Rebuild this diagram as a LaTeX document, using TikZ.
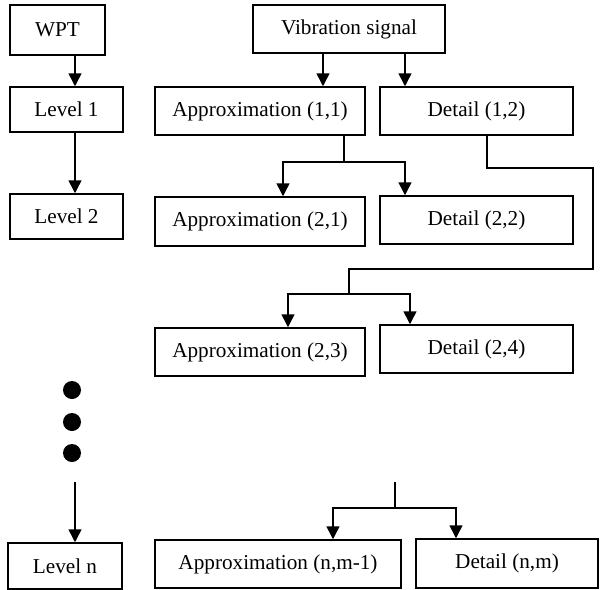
\documentclass[tikz,border=0pt]{standalone}
\usepackage{fontspec}
\setmainfont{Liberation Serif}
\usetikzlibrary{arrows.meta}
\tikzset{
  box/.style={draw, line width=0.75pt, inner sep=0pt, rectangle,
    font=\fontsize{10.6}{12}\selectfont},
  link/.style={line width=0.75pt},
  arr/.style={line width=0.75pt, -{Triangle[length=6.5pt,width=6.5pt]}},
  dotmark/.style={circle, fill=black, inner sep=0pt, minimum size=9pt}
}
\begin{document}
\begin{tikzpicture}[x=0.5pt,y=-0.5pt]
\useasboundingbox (0,0) rectangle (601,590);

% level column
\node[box, minimum width=47.5pt, minimum height=25pt] (wpt) at (57.5,30) {WPT};
\node[box, minimum width=56.5pt, minimum height=22.5pt] (lv1) at (66.5,109.5) {Level 1};
\node[box, minimum width=56.5pt, minimum height=22.5pt] (lv2) at (66.5,216.5) {Level 2};
\node[box, minimum width=57pt, minimum height=23pt] (lvn) at (65,566) {Level n};

% decomposition tree
\node[box, minimum width=96pt, minimum height=24pt] (vib) at (349,29) {Vibration signal};
\node[box, minimum width=105pt, minimum height=24pt] (a11) at (260,111) {Approximation (1,1)};
\node[box, minimum width=96.5pt, minimum height=24pt] (d12) at (476.5,111) {Detail (1,2)};
\node[box, minimum width=105pt, minimum height=24.5pt] (a21) at (260,221.5) {Approximation (2,1)};
\node[box, minimum width=96.5pt, minimum height=24pt] (d22) at (476.5,220) {Detail (2,2)};
\node[box, minimum width=105pt, minimum height=24pt] (a23) at (260,352) {Approximation (2,3)};
\node[box, minimum width=96.5pt, minimum height=24pt] (d24) at (476.5,349) {Detail (2,4)};
\node[box, minimum width=123pt, minimum height=24pt] (anm) at (278,564) {Approximation (n,m-1)};
\node[box, minimum width=91pt, minimum height=24.5pt] (dnm) at (507,563.5) {Detail (n,m)};

% ellipsis dots
\node[dotmark] (dot1) at (72,390) {};
\node[dotmark] (dot2) at (72,422) {};
\node[dotmark] (dot3) at (72,453) {};

% helper coordinates
\coordinate (xL) at (75,0);
\coordinate (dotsend) at (75,482);
\coordinate (xa) at (323,0);
\coordinate (xb) at (405,0);
\coordinate (s1) at (344,162);
\coordinate (xc) at (283,0);
\coordinate (xd) at (405,0);
\coordinate (xe) at (487,0);
\coordinate (r1) at (593,168);
\coordinate (r2) at (593,269);
\coordinate (s2) at (349,294);
\coordinate (xf) at (288,0);
\coordinate (xg) at (410,0);
\coordinate (top3) at (395,482);
\coordinate (s3) at (395,508);
\coordinate (xh) at (333,0);
\coordinate (xi) at (456,0);

% level arrows
\draw[arr] (wpt.south -| xL) -- (lv1.north -| xL);
\draw[arr] (lv1.south -| xL) -- (lv2.north -| xL);
\draw[arr] (dotsend) -- (lvn.north -| dotsend);

% first split
\draw[arr] (vib.south -| xa) -- (a11.north -| xa);
\draw[arr] (vib.south -| xb) -- (d12.north -| xb);

% split of approximation (1,1)
\draw[link] (a11.south -| s1) -- (s1);
\draw[arr] (s1) -| (a21.north -| xc);
\draw[arr] (s1) -| (d22.north -| xd);

% split of detail (1,2)
\draw[link] (d12.south -| xe) |- (r1) -- (r2) -| (s2);
\draw[arr] (s2) -| (a23.north -| xf);
\draw[arr] (s2) -| (d24.north -| xg);

% last level split
\draw[link] (top3) -- (s3);
\draw[arr] (s3) -| (anm.north -| xh);
\draw[arr] (s3) -| (dnm.north -| xi);
\end{tikzpicture}
\end{document}
